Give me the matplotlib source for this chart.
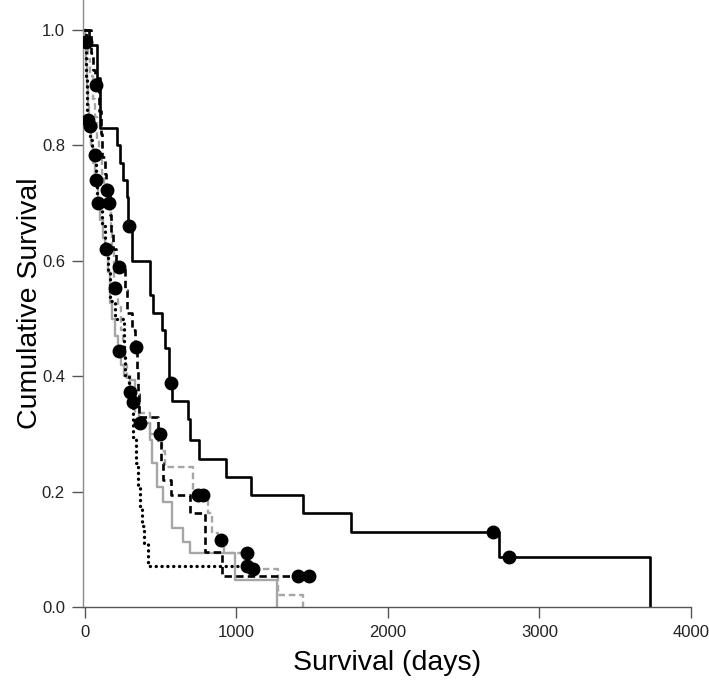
import matplotlib.pyplot as plt
import numpy as np

plt.rcParams['font.family'] = ['Liberation Sans', 'DejaVu Sans']

# Kaplan-Meier style step data: event times (days), survival after each event, censor times
solid_black_t = [26, 79, 99, 211, 231, 251, 277, 284, 310, 429, 449, 509, 528, 555, 575, 680, 693, 753, 931, 1096, 1440, 1757, 2734, 3732]
solid_black_s = [0.974, 0.917, 0.83, 0.80, 0.77, 0.74, 0.71, 0.66, 0.60, 0.54, 0.51, 0.48, 0.449, 0.388, 0.357, 0.325, 0.29, 0.256, 0.225, 0.194, 0.163, 0.13, 0.087, 0.0]
solid_black_c = [291, 570, 2695, 2800]

dashed_black_t = [40, 55, 65, 95, 105, 115, 130, 140, 165, 172, 185, 205, 262, 277, 310, 330, 345, 350, 357, 482, 500, 515, 565, 694, 793, 905]
dashed_black_s = [0.96, 0.93, 0.905, 0.86, 0.82, 0.78, 0.75, 0.723, 0.68, 0.65, 0.62, 0.59, 0.55, 0.51, 0.48, 0.45, 0.41, 0.37, 0.33, 0.29, 0.25, 0.22, 0.194, 0.163, 0.095, 0.054]
dashed_black_c = [73, 145, 225, 337, 1407, 1480]

dotted_black_t = [4, 8, 12, 16, 30, 45, 70, 78, 110, 130, 150, 165, 198, 258, 264, 290, 317, 335, 350, 362, 375, 390, 416]
dotted_black_s = [0.96, 0.92, 0.88, 0.844, 0.81, 0.783, 0.75, 0.70, 0.66, 0.62, 0.58, 0.53, 0.50, 0.44, 0.40, 0.373, 0.295, 0.25, 0.21, 0.17, 0.14, 0.11, 0.071]
dotted_black_c = [20, 66, 85, 300, 1070]

solid_gray_t = [3, 10, 15, 20, 26, 40, 55, 65, 85, 100, 120, 135, 150, 165, 180, 200, 215, 240, 260, 297, 330, 357, 429, 445, 476, 515, 575, 647, 694, 991, 1268]
solid_gray_s = [0.97, 0.94, 0.90, 0.87, 0.834, 0.80, 0.77, 0.74, 0.70, 0.67, 0.64, 0.62, 0.58, 0.527, 0.50, 0.47, 0.444, 0.42, 0.40, 0.393, 0.355, 0.319, 0.29, 0.25, 0.208, 0.182, 0.137, 0.113, 0.094, 0.047, 0.0]
solid_gray_c = [30, 73, 140, 225, 362]

dashed_gray_t = [2, 20, 35, 50, 65, 80, 95, 110, 125, 150, 170, 180, 190, 215, 235, 250, 265, 280, 300, 330, 429, 510, 528, 713, 812, 839, 880, 915, 1090, 1275, 1440]
dashed_gray_s = [0.98, 0.95, 0.92, 0.88, 0.85, 0.81, 0.78, 0.75, 0.72, 0.70, 0.66, 0.62, 0.553, 0.52, 0.48, 0.45, 0.42, 0.39, 0.355, 0.336, 0.30, 0.27, 0.243, 0.194, 0.163, 0.128, 0.116, 0.094, 0.065, 0.02, 0.0]
dashed_gray_c = [7, 159, 195, 317, 495, 745, 778, 900, 1070, 1110]

x_ticks = [0, 1000, 2000, 3000, 4000]
y_ticks = [0.0, 0.2, 0.4, 0.6, 0.8, 1.0]

GRAY = '#a6a6a6'
DASH = (0, (2.8, 1.6))
DOT = (0, (0.05, 1.7))


def km_curve(ax, t, s, c, color, ls, lw=1.9):
    end = max(t[-1], max(c))
    xs = [0] + list(t) + [end]
    ys = [1.0] + list(s) + [s[-1]]
    ax.step(xs, ys, where='post', color=color, lw=lw, linestyle=ls,
            dash_capstyle='round' if ls == DOT else 'butt', zorder=2)
    t_arr = np.array(t)
    s_arr = np.array(s)
    cy = []
    for ct in c:
        idx = np.searchsorted(t_arr, ct, side='right') - 1
        cy.append(1.0 if idx < 0 else s_arr[idx])
    ax.plot(c, cy, 'o', color='black', markersize=9, zorder=3)


fig = plt.figure(figsize=(7.09, 6.91), dpi=100)
ax = fig.add_axes([83 / 709, 1 - 607 / 691, (691 - 83) / 709, 607 / 691])

km_curve(ax, solid_gray_t, solid_gray_s, solid_gray_c, GRAY, '-', 1.7)
km_curve(ax, dashed_gray_t, dashed_gray_s, dashed_gray_c, GRAY, DASH, 1.7)
km_curve(ax, dotted_black_t, dotted_black_s, dotted_black_c, 'black', DOT, 2.4)
km_curve(ax, dashed_black_t, dashed_black_s, dashed_black_c, 'black', DASH)
km_curve(ax, solid_black_t, solid_black_s, solid_black_c, 'black', '-')

ax.set_xlim(-13, 4000)
ax.set_ylim(0, 1.052)
ax.set_xticks(x_ticks)
ax.set_yticks(y_ticks)
ax.set_yticklabels([f'{v:.1f}' for v in y_ticks])

for side in ['top', 'right']:
    ax.spines[side].set_visible(False)
ax.spines['left'].set_color('#8c8c8c')
ax.spines['bottom'].set_color('#555555')
ax.spines['left'].set_linewidth(1.0)
ax.spines['bottom'].set_linewidth(1.0)
ax.tick_params(axis='both', direction='out', length=8, width=1.0, colors='#555555',
               labelcolor='#222222', labelsize=12, pad=5)

ax.set_xlabel('Survival (days)', fontsize=20.5, labelpad=7)
ax.set_ylabel('Cumulative Survival', fontsize=20.5, labelpad=-1)

fig.savefig('out.png', dpi=100)
